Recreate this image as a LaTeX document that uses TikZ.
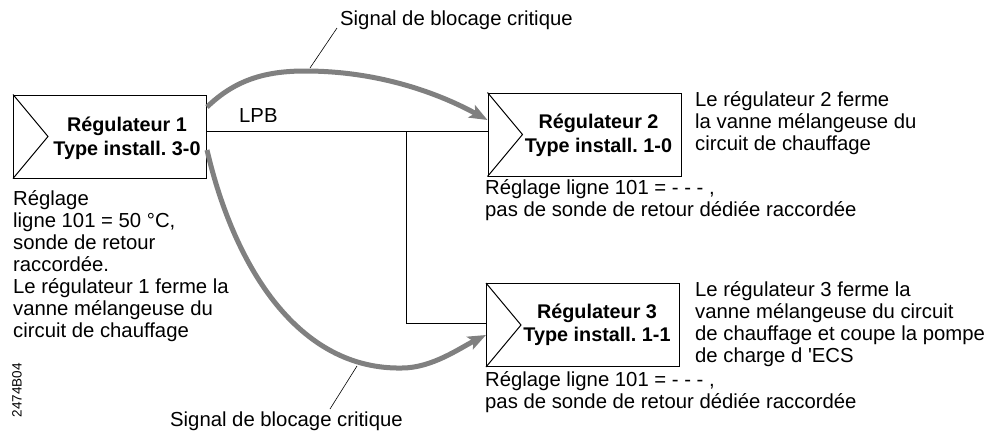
\documentclass[tikz,border=0pt]{standalone}
\usepackage{fontspec}
\setmainfont{Liberation Sans}
\usetikzlibrary{arrows.meta}
\frenchspacing

\begin{document}
\begin{tikzpicture}[x=1pt, y=-1pt,
  regbox/.style={draw, line width=1pt, minimum width=193pt, minimum height=83pt, inner sep=0pt},
  regtext/.style={font=\fontsize{19.8}{23.5}\selectfont\bfseries, align=center, inner sep=0pt},
  desc/.style={font=\fontsize{20.3}{22}\selectfont, align=left, anchor=base west, inner sep=0pt},
  bus/.style={line width=0.8pt},
  signal/.style={line width=5pt, color=black!50, -{Stealth[length=18pt, width=14pt, inset=4pt]}},
  leader/.style={line width=0.6pt}]

\useasboundingbox (0,0) rectangle (1005,432);

% Regulators
\node[regbox] (r1) at (110,136.5) {};
\node[regbox] (r2) at (584.5,134.5) {};
\node[regbox] (r3) at (583,325) {};
\foreach \r in {r1,r2,r3}
  \draw[line width=1pt] (\r.north west) -- ([xshift=35pt]\r.west) -- (\r.south west);

\node[regtext] (r1t) at ([xshift=17pt, yshift=-2pt]r1.center) {Régulateur 1\\Type install. 3-0};
\node[regtext] (r2t) at ([xshift=14pt, yshift=-1pt]r2.center) {Régulateur 2\\Type install. 1-0};
\node[regtext] (r3t) at ([xshift=14pt]r3.center) {Régulateur 3\\Type install. 1-1};

% LPB bus
\coordinate (j) at (406,131);
\draw[bus] (r1.east |- j) -- (r2.west |- j);
\draw[bus] (j) |- ([yshift=2pt]r3.west);
\node[desc] (lpb) at (239,122) {LPB};

% Critical blocking signal
\draw[signal] ([yshift=29.5pt]r1.east) .. controls (235,80) and (265,71) .. (305,71)
  .. controls (380,71) and (440,94) .. ([yshift=14.5pt]r2.west);
\draw[signal] ([yshift=-13.5pt]r1.east) .. controls (235,270) and (300,370) .. (402,368)
  .. controls (432,368) and (460,348) .. ([yshift=-10pt]r3.west);

\node[desc] (sigtop) at (340,25) {Signal de blocage critique};
\node[desc] (sigbot) at (170,426) {Signal de blocage critique};
\coordinate (ltop) at (310,68);
\coordinate (lbot) at (357,366);
\draw[leader] ([xshift=-3pt, yshift=-3pt]sigtop.base west) -- (ltop);
\draw[leader] ([xshift=160pt, yshift=17pt]sigbot.base west) -- (lbot);

% Descriptions (anchored at the baseline of the last line)
\node[desc] (d1) at (13,337) {Réglage\\ligne 101 = 50 °C,\\sonde de retour\\raccordée.\\Le régulateur 1 ferme la\\vanne mélangeuse du\\circuit de chauffage};
\node[desc] (d2) at (695,150) {Le régulateur 2 ferme\\la vanne mélangeuse du\\circuit de chauffage};
\node[desc] (s2) at (485,216) {Réglage ligne 101 = - - - ,\\pas de sonde de retour dédiée raccordée};
\node[desc] (d3) at (695,362) {Le régulateur 3 ferme la\\vanne mélangeuse du circuit\\de chauffage et coupe la pompe\\de charge d \textquotesingle ECS};
\node[desc] (s3) at (485,408) {Réglage ligne 101 = - - - ,\\pas de sonde de retour dédiée raccordée};

\node[font=\fontsize{13.5}{14}\selectfont, rotate=90, inner sep=0pt] (ref) at (17,390) {2474B04};

\end{tikzpicture}
\end{document}
